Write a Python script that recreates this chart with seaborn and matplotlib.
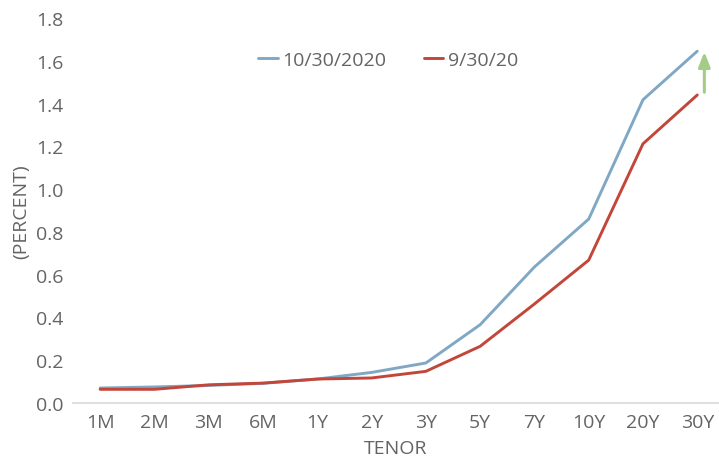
import matplotlib
matplotlib.use("Agg")
import matplotlib.pyplot as plt
import seaborn as sns
import pandas as pd

tenors = ["1M", "2M", "3M", "6M", "1Y", "2Y", "3Y", "5Y", "7Y", "10Y", "20Y", "30Y"]
oct_2020 = [0.07, 0.075, 0.082, 0.092, 0.112, 0.143, 0.187, 0.366, 0.636, 0.86, 1.418, 1.645]
sep_2020 = [0.064, 0.064, 0.085, 0.093, 0.112, 0.117, 0.148, 0.265, 0.463, 0.668, 1.212, 1.44]
series_names = ["10/30/2020", "9/30/20"]

df = pd.DataFrame({
    "TENOR": tenors * 2,
    "pos": list(range(len(tenors))) * 2,
    "value": oct_2020 + sep_2020,
    "series": [series_names[0]] * len(tenors) + [series_names[1]] * len(tenors),
})

sns.set_style("white")
plt.rcParams["font.family"] = ["Open Sans", "DejaVu Sans"]
grey = "#646464"
fs = 14

fig = plt.figure(figsize=(7.19, 4.64), dpi=100)
ax = fig.add_axes([73 / 719, 60 / 464, 646 / 719, 385 / 464])

sns.lineplot(data=df, x="pos", y="value", hue="series", ax=ax,
             palette={series_names[0]: "#80a8c4", series_names[1]: "#c2463a"},
             linewidth=2.1)

# upward arrow showing the shift of the long end
ax.annotate("", xy=(11.13, oct_2020[-1] + 0.01), xytext=(11.13, sep_2020[-1]),
            arrowprops=dict(arrowstyle="-|>,head_length=0.9,head_width=0.35",
                            color="#a3cc86", lw=2.2),
            annotation_clip=False)

ax.set_xlim(-0.5, 11.4)
ax.set_ylim(0, 1.8)
ax.set_xticks(range(len(tenors)))
ax.set_xticklabels(tenors)
ax.set_yticks([i * 0.2 for i in range(10)])
ax.set_yticklabels([f"{i * 0.2:.1f}" for i in range(10)])
ax.tick_params(axis="both", colors=grey, labelsize=fs, length=0, pad=7)
ax.set_xlabel("TENOR", color=grey, fontsize=fs, labelpad=6)
ax.set_ylabel("(PERCENT)", color=grey, fontsize=fs, labelpad=4)

for s in ["top", "right", "left"]:
    ax.spines[s].set_visible(False)
ax.spines["bottom"].set_color("#d9d9d9")
ax.spines["bottom"].set_linewidth(1.2)

leg = ax.legend(loc="upper center", bbox_to_anchor=(0.488, 0.96), ncol=2,
                frameon=False, fontsize=fs, handlelength=1.0,
                handletextpad=0.25, columnspacing=1.9)
for t in leg.get_texts():
    t.set_color(grey)

fig.savefig("out.png", dpi=100)
